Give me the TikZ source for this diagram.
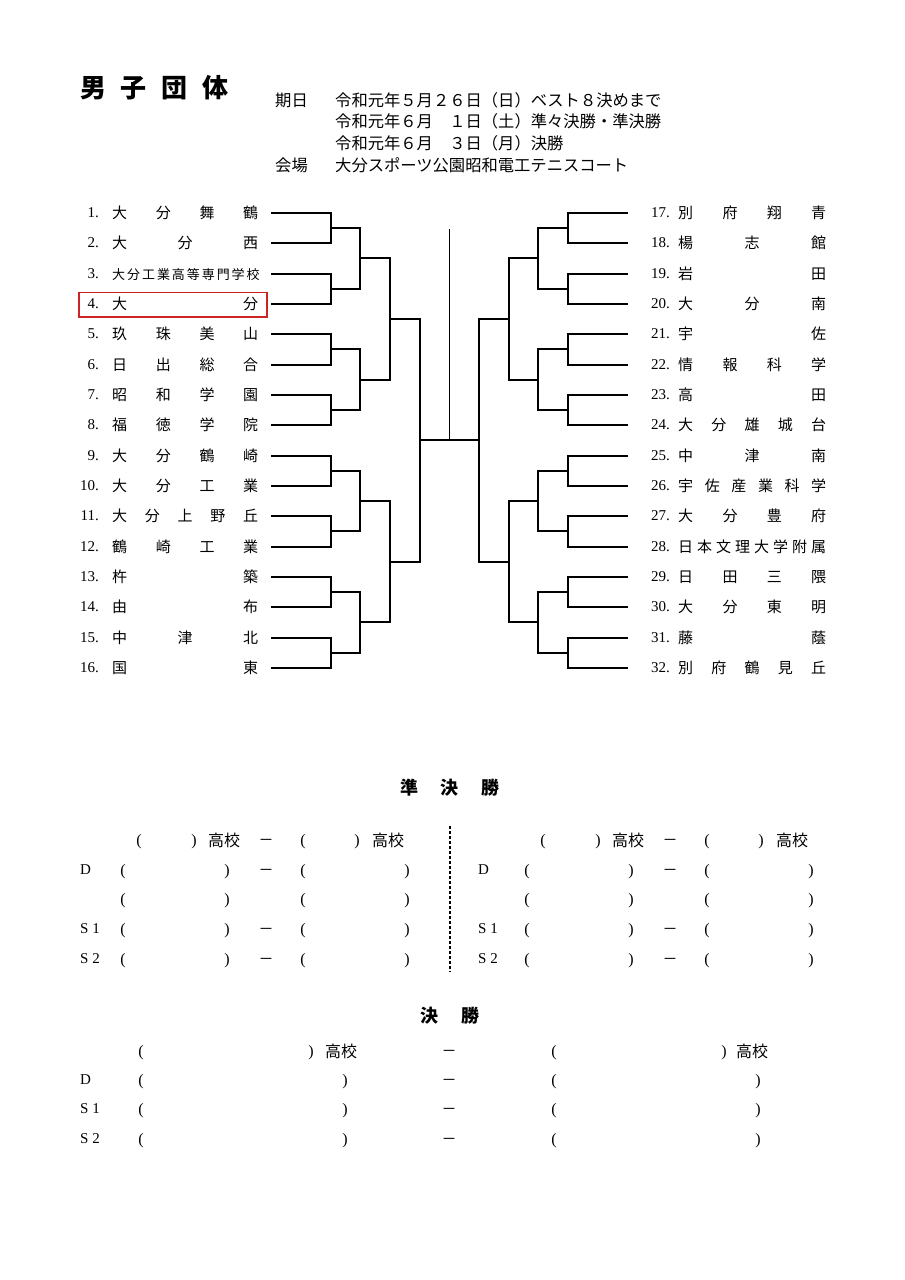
\documentclass[tikz,border=0pt]{standalone}
\usepackage{fontspec}
\setmainfont{Liberation Serif}
\newfontfamily\jp{Noto Sans CJK JP}
\usetikzlibrary{calc}

\tikzset{
  jptxt/.style={font={\jp\fontsize{16.3}{18}\selectfont}, text height=14.3pt, text depth=2pt, inner sep=0pt, anchor=west},
  teamnum/.style={font={\fontsize{15}{18}\selectfont}, text height=9.9pt, text depth=0pt, inner sep=0pt, anchor=east},
  teamname/.style={font={\jp\fontsize{15}{18}\selectfont}, text height=13.2pt, text depth=1.8pt, inner sep=0pt, anchor=west},
  heading/.style={font={\jp\bfseries\fontsize{18}{20}\selectfont}, text height=15.8pt, text depth=2.2pt, inner sep=0pt},
  paren/.style={font={\fontsize{16}{18}\selectfont}, inner sep=0pt, yshift=-1.5pt},
  jpcell/.style={font={\jp\fontsize{16}{18}\selectfont}, text height=14.1pt, text depth=1.9pt, inner sep=0pt},
  dashmark/.style={font={\jp\fontsize{15}{18}\selectfont}, text height=13.2pt, text depth=1.8pt, inner sep=0pt},
  rowlab/.style={font={\fontsize{15}{18}\selectfont}, text height=9.9pt, text depth=0pt, inner sep=0pt, anchor=west},
  brk/.style={line width=2pt}
}
\definecolor{markred}{RGB}{205,35,35}

\begin{document}
\begin{tikzpicture}[x=1pt, y=-1pt]
\fill[white] (0,0) rectangle (905,1280);
\useasboundingbox (0,0) rectangle (905,1280);

% title and dates
\node[font={\jp\bfseries\fontsize{26}{28}\selectfont}, text height=22.9pt, text depth=3.1pt, inner sep=0pt, anchor=west] (title) at (80,88) {\makebox[148pt][s]{男 子 団 体}};
\node[jptxt] (date) at (275,100) {期日};
\node[jptxt] (date1) at (335,100) {令和元年５月２６日（日）ベスト８決めまで};
\node[jptxt] (date2) at (335,121) {令和元年６月　１日（土）準々決勝・準決勝};
\node[jptxt] (date3) at (335,143) {令和元年６月　３日（月）決勝};
\node[jptxt] (venue) at (275,165) {会場};
\node[jptxt] (venue1) at (335,165) {大分スポーツ公園昭和電工テニスコート};

% teams
\foreach \i/\nm in {1/{大 分 舞 鶴}, 2/{大 分 西}, 3/{\fontsize{13}{15}\selectfont 大 分 工 業 高 等 専 門 学 校}, 4/{大 分},
  5/{玖 珠 美 山}, 6/{日 出 総 合}, 7/{昭 和 学 園}, 8/{福 徳 学 院},
  9/{大 分 鶴 崎}, 10/{大 分 工 業}, 11/{大 分 上 野 丘}, 12/{鶴 崎 工 業},
  13/{杵 築}, 14/{由 布}, 15/{中 津 北}, 16/{国 東}}{
  \pgfmathtruncatemacro\ty{round(213+(\i-1)*30.33)}
  \node[teamnum] (ln\i) at (99,\ty) {\i.};
  \node[teamname] (lt\i) at (112,\ty) {\makebox[146pt][s]{\nm}};
}
\foreach \i/\nm in {17/{別 府 翔 青}, 18/{楊 志 館}, 19/{岩 田}, 20/{大 分 南},
  21/{宇 佐}, 22/{情 報 科 学}, 23/{高 田}, 24/{大 分 雄 城 台},
  25/{中 津 南}, 26/{宇 佐 産 業 科 学}, 27/{大 分 豊 府}, 28/{日 本 文 理 大 学 附 属},
  29/{日 田 三 隈}, 30/{大 分 東 明}, 31/{藤 蔭}, 32/{別 府 鶴 見 丘}}{
  \pgfmathtruncatemacro\ty{round(213+(\i-17)*30.33)}
  \node[teamnum] (rn\i) at (670,\ty) {\i.};
  \node[teamname] (rt\i) at (678,\ty) {\makebox[148pt][s]{\nm}};
}
\draw[markred, line width=1.2pt] (79,292.5) rectangle (267,317);

% bracket
\foreach \i in {1,...,16}{
  \pgfmathtruncatemacro\ty{round(213+(\i-1)*30.33)}
  \coordinate (la0-\i) at (271,\ty);
  \coordinate (ra0-\i) at (628,\ty);
}
\foreach \k/\xl/\xr/\n in {1/331/568/8, 2/360/538/4, 3/390/509/2, 4/420/479/1}{
  \foreach \j in {1,...,\n}{
    \pgfmathtruncatemacro\pk{\k-1}
    \pgfmathtruncatemacro\p{2*\j-1}
    \pgfmathtruncatemacro\q{2*\j}
    \pgfmathtruncatemacro\yy{round(213+((\j-1)*2^\k+(2^\k-1)/2)*30.33)}
    \coordinate (la\k-\j) at (\xl,\yy);
    \coordinate (ra\k-\j) at (\xr,\yy);
    \draw[brk] (la\pk-\p) -| (la\k-\j) |- (la\pk-\q);
    \draw[brk] (ra\pk-\p) -| (ra\k-\j) |- (ra\pk-\q);
  }
}
\coordinate (champ) at (449.5,229);
\coordinate (final) at (449.5,441);
\draw[brk] (la4-1) -- (ra4-1);
\draw[line width=1.3pt] (final) -- (champ);

% semifinals
\node[heading] (semi) at (450,788) {\makebox[100pt][s]{準 決 勝}};
\coordinate (sep1) at (450,826);
\coordinate (sep2) at (450,972);
\draw[line width=1.2pt, dash pattern=on 3pt off 2pt] (sep1) -- (sep2);
\foreach \s/\dx/\lx in {l/0/80, r/404/478}{
  \node[paren] (\s-a1) at ({139+\dx},840) {(};
  \node[paren] (\s-b1) at ({194+\dx},840) {)};
  \node[jpcell] (\s-c1) at ({224+\dx},840) {高校};
  \node[dashmark] (\s-d1) at ({266+\dx},840) {－};
  \node[paren] (\s-e1) at ({303+\dx},840) {(};
  \node[paren] (\s-f1) at ({357+\dx},840) {)};
  \node[jpcell] (\s-g1) at ({388+\dx},840) {高校};
  \foreach \r/\y in {2/870, 3/899, 4/929, 5/959}{
    \node[paren] (\s-a\r) at ({123+\dx},\y) {(};
    \node[paren] (\s-b\r) at ({227+\dx},\y) {)};
    \node[paren] (\s-e\r) at ({303+\dx},\y) {(};
    \node[paren] (\s-f\r) at ({407+\dx},\y) {)};
  }
  \foreach \r/\y/\lab in {2/870/D, 4/929/S~1, 5/959/S~2}{
    \node[rowlab] (\s-l\r) at (\lx,\y) {\lab};
    \node[dashmark] (\s-d\r) at ({266+\dx},\y) {－};
  }
}

% final
\node[heading] (fin) at (450,1016) {\makebox[60pt][s]{決 勝}};
\node[paren] (f-a1) at (141,1051) {(};
\node[paren] (f-b1) at (311,1051) {)};
\node[jpcell] (f-c1) at (341,1051) {高校};
\node[dashmark] (f-d1) at (449,1051) {－};
\node[paren] (f-e1) at (554,1051) {(};
\node[paren] (f-f1) at (724,1051) {)};
\node[jpcell] (f-g1) at (752,1051) {高校};
\foreach \r/\y/\lab in {2/1080/D, 3/1109/S~1, 4/1139/S~2}{
  \node[rowlab] (f-l\r) at (80,\y) {\lab};
  \node[paren] (f-a\r) at (141,\y) {(};
  \node[paren] (f-b\r) at (345,\y) {)};
  \node[dashmark] (f-d\r) at (449,\y) {－};
  \node[paren] (f-e\r) at (554,\y) {(};
  \node[paren] (f-f\r) at (758,\y) {)};
}
\end{tikzpicture}
\end{document}
